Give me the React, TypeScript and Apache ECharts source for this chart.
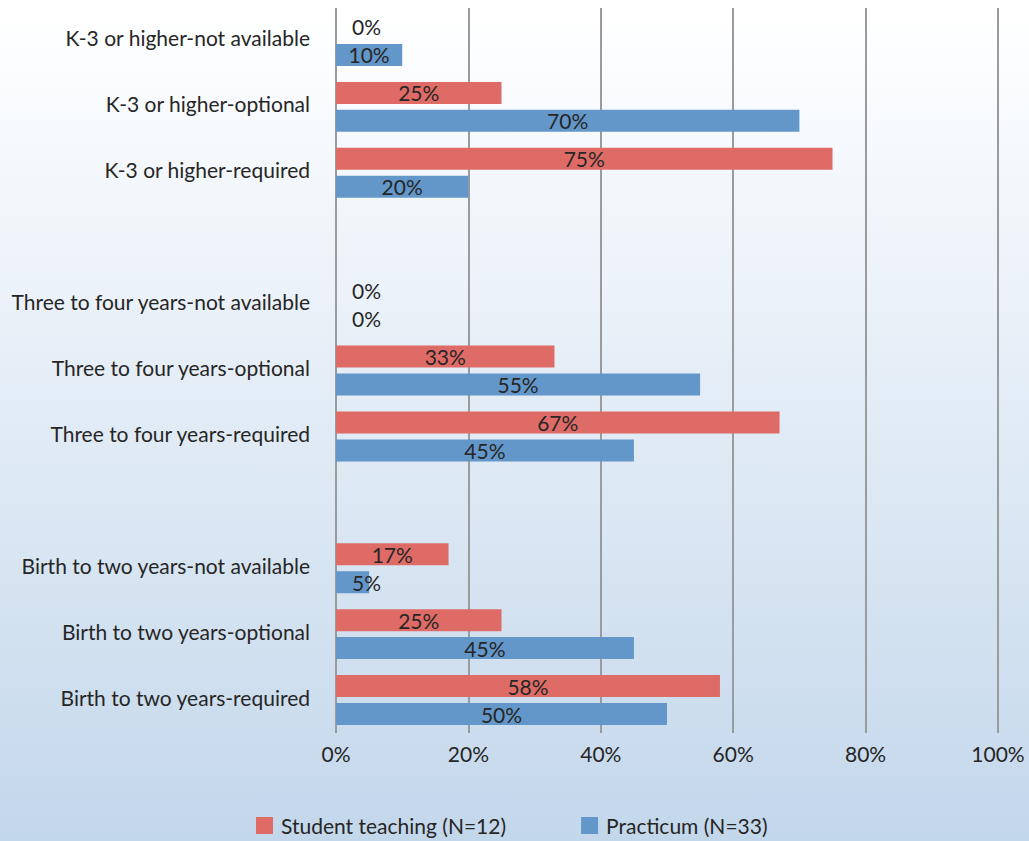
import React, { useEffect, useRef } from "react";
import * as echarts from "echarts";

const categories = [
  "K-3 or higher-not available",
  "K-3 or higher-optional",
  "K-3 or higher-required",
  " ",
  "Three to four years-not available",
  "Three to four years-optional",
  "Three to four years-required",
  "  ",
  "Birth to two years-not available",
  "Birth to two years-optional",
  "Birth to two years-required",
];

const studentTeaching = [0, 25, 75, null, 0, 33, 67, null, 17, 25, 58];
const practicum = [10, 70, 20, null, 0, 55, 45, null, 5, 45, 50];

const seriesNames = ["Student teaching (N=12)", "Practicum (N=33)"];
const xTicks = [0, 20, 40, 60, 80, 100];

const FONT = "Lato";
const TEXT = "#262626";

function buildData(values: (number | null)[]) {
  return values.map((v) => {
    if (v === null) return null;
    if (v < 8) {
      return {
        value: v,
        label: { position: "insideLeft", distance: 16 },
      };
    }
    return v;
  });
}

export default function App() {
  const ref = useRef<HTMLDivElement>(null);
  useEffect(() => {
    if (!ref.current) return;
    const chart = echarts.init(ref.current, null, { renderer: "svg" });
    const labelStyle = {
      show: true,
      position: "inside",
      formatter: "{c}%",
      color: TEXT,
      fontFamily: FONT,
      fontSize: 21,
    };
    chart.setOption({
      animation: false,
      backgroundColor: new echarts.graphic.LinearGradient(0, 0, 0, 1, [
        { offset: 0, color: "#FFFFFF" },
        { offset: 0.05, color: "#FDFEFF" },
        { offset: 1, color: "#C3D7EB" },
      ]),
      textStyle: { fontFamily: FONT, color: TEXT },
      grid: { left: 336, right: 31, top: 8, bottom: 108, containLabel: false },
      legend: {
        left: 251,
        top: 810,
        itemWidth: 17,
        itemHeight: 17,
        itemGap: 75,
        icon: "rect",
        textStyle: {
          fontFamily: FONT,
          fontSize: 21,
          color: TEXT,
          padding: [0, 0, 0, 3],
        },
        data: seriesNames,
      },
      xAxis: {
        type: "value",
        min: xTicks[0],
        max: xTicks[xTicks.length - 1],
        interval: 20,
        axisLine: { show: false },
        axisTick: { show: false },
        axisLabel: {
          formatter: "{value}%",
          fontFamily: FONT,
          fontSize: 21,
          color: TEXT,
          margin: 10,
        },
        splitLine: { show: true, lineStyle: { color: "#9B9B9B", width: 2 } },
      },
      yAxis: {
        type: "category",
        inverse: true,
        data: categories,
        axisLine: { show: false },
        axisTick: { show: false },
        axisLabel: {
          fontFamily: FONT,
          fontSize: 21,
          color: TEXT,
          margin: 26,
          verticalAlign: "bottom",
          lineHeight: 6,
        },
      },
      series: [
        {
          name: seriesNames[0],
          type: "bar",
          data: buildData(studentTeaching),
          barWidth: 22,
          barGap: "27%",
          itemStyle: { color: "#DF6B66" },
          label: labelStyle,
        },
        {
          name: seriesNames[1],
          type: "bar",
          data: buildData(practicum),
          barWidth: 22,
          barGap: "27%",
          itemStyle: { color: "#6396C9" },
          label: labelStyle,
        },
      ],
    });
    return () => chart.dispose();
  }, []);
  return (
    <div
      ref={ref}
      style={{ position: "fixed", left: 0, top: 0, width: 1029, height: 841 }}
    />
  );
}
